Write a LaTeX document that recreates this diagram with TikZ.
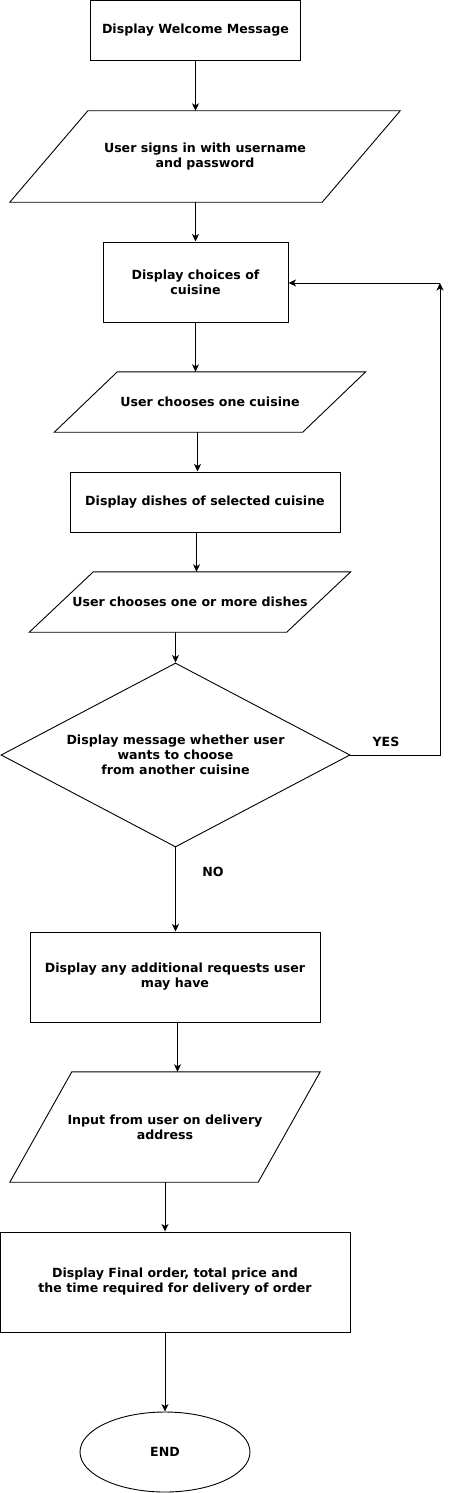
\documentclass[tikz,border=0pt]{standalone}
\usepackage{fontspec}
\setmainfont{DejaVu Sans}
\usetikzlibrary{arrows.meta,calc,shapes.geometric}
\begin{document}
\begin{tikzpicture}[x=1pt,y=-1pt,
  every node/.style={font=\bfseries\fontsize{12.6}{15}\selectfont, align=center, inner sep=0pt},
  boxnode/.style={draw, line width=1pt, rectangle},
  ionode/.style={rectangle},
  iodraw/.style={draw, line width=0.9pt, line join=miter},
  arr/.style={draw, line width=1pt, -{Stealth[length=7.5pt,width=7pt,inset=2pt]}},
  lbl/.style={font=\bfseries\fontsize{12.6}{15}\selectfont}
]
\useasboundingbox (0,0) rectangle (449,1493);
% nodes
\node[boxnode, minimum width=210, minimum height=60] (b1) at (195.5,30.5) {Display Welcome Message};
\node[ionode, minimum width=312, minimum height=91] (p1) at (205,156.5) {User signs in with username\\and password};
\draw[iodraw] ($(p1.north west)+(39,0)$) -- ($(p1.north east)+(39,0)$) -- ($(p1.south east)-(39,0)$) -- ($(p1.south west)-(39,0)$) -- cycle;
\node[boxnode, minimum width=185, minimum height=80] (b2) at (195.5,282) {Display choices of\\cuisine};
\node[ionode, minimum width=248, minimum height=60] (p2) at (210,402) {User chooses one cuisine};
\draw[iodraw] ($(p2.north west)+(31.5,0)$) -- ($(p2.north east)+(31.5,0)$) -- ($(p2.south east)-(31.5,0)$) -- ($(p2.south west)-(31.5,0)$) -- cycle;
\node[boxnode, minimum width=270, minimum height=60] (b3) at (205,502) {Display dishes of selected cuisine};
\node[ionode, minimum width=257, minimum height=60] (p3) at (190,602) {User chooses one or more dishes};
\draw[iodraw] ($(p3.north west)+(32,0)$) -- ($(p3.north east)+(32,0)$) -- ($(p3.south east)-(32,0)$) -- ($(p3.south west)-(32,0)$) -- cycle;
\node[draw, line width=0.9pt, diamond, minimum width=349, minimum height=184, aspect=1.9] (d) at (175.5,755) {};
\node (dt) at (175.5,755) {Display message whether user\\wants to choose\\from another cuisine};
\node[boxnode, minimum width=290, minimum height=90] (b4) at (175,977) {Display any additional requests user\\may have};
\node[ionode, minimum width=248, minimum height=110] (p4) at (165,1127) {Input from user on delivery\\address};
\draw[iodraw] ($(p4.north west)+(31,0)$) -- ($(p4.north east)+(31,0)$) -- ($(p4.south east)-(31,0)$) -- ($(p4.south west)-(31,0)$) -- cycle;
\node[boxnode, minimum width=350, minimum height=100] (b5) at (175,1282) {Display Final order, total price and\\the time required for delivery of order};
\node[draw, line width=0.9pt, ellipse, minimum width=170, minimum height=80] (e) at (165,1452) {END};
\coordinate (loop) at (440,283);
% connectors
\draw[arr] (b1.south) -- (b1.south |- p1.north);
\draw[arr] (b2.north |- p1.south) -- (b2.north);
\draw[arr] (b2.south) -- (b2.south |- p2.north);
\draw[arr] ([xshift=-12.5pt]p2.south) -- ([xshift=-7.5pt]b3.north);
\draw[arr] ([xshift=-8.5pt]b3.south) -- ([xshift=6.5pt]p3.north);
\draw[arr] ([xshift=-14.5pt]p3.south) -- (d.north);
\draw[arr] (d.east) -| (loop);
\draw[arr] (loop) -- (loop -| b2.east);
\draw[arr] (d.south) -- (d.south |- b4.north);
\draw[arr] ([xshift=2.5pt]b4.south) -- ([xshift=12.5pt]p4.north);
\draw[arr] (p4.south) -- (p4.south |- b5.north);
\draw[arr] (e.north |- b5.south) -- (e.north);
% labels
\node[lbl] (yes) at (386,742) {YES};
\node[lbl] (no) at (213,872) {NO};
\end{tikzpicture}
\end{document}
